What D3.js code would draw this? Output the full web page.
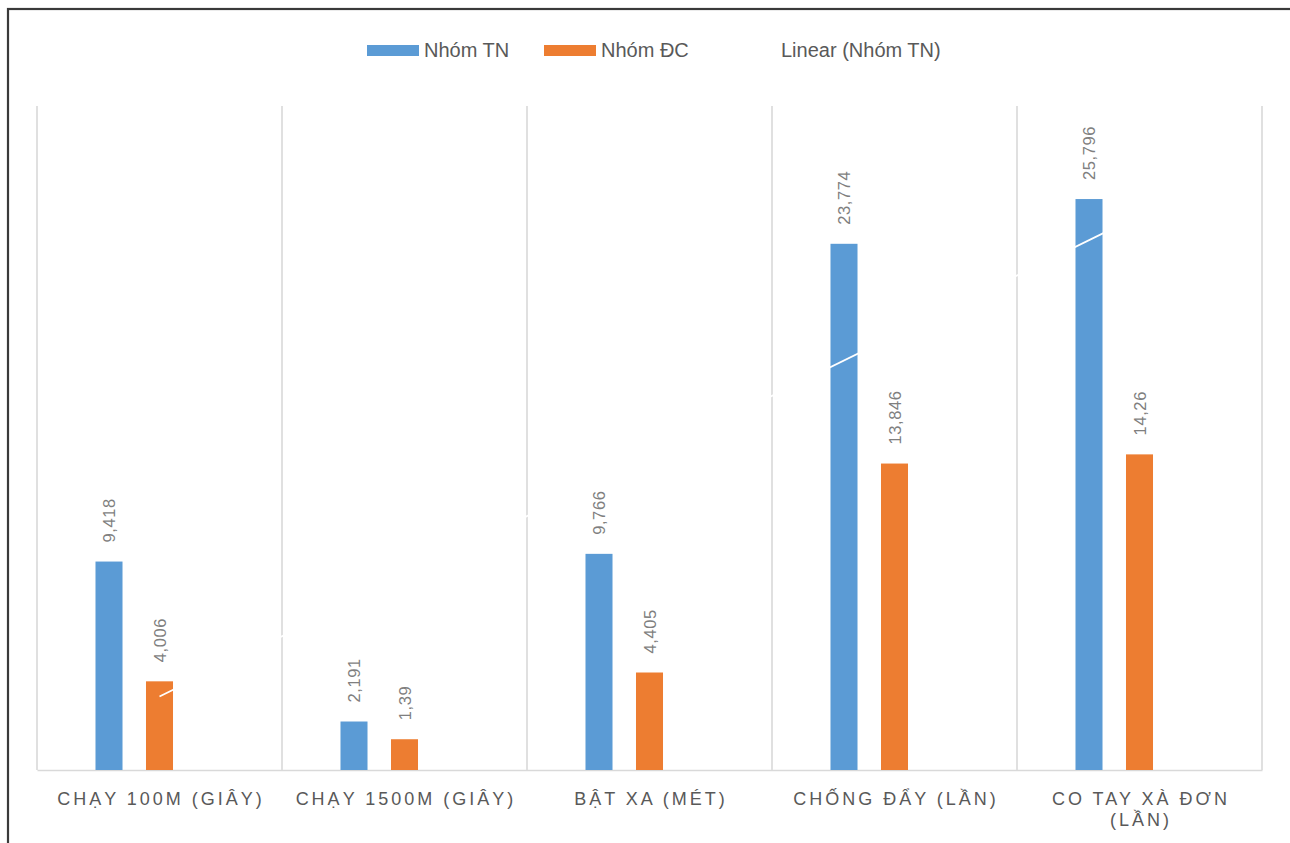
<!DOCTYPE html>
<html>
<head>
<meta charset="utf-8">
<script src="https://cdn.jsdelivr.net/npm/d3@7"></script>
<style>
  html, body { margin: 0; padding: 0; background: #fff; }
  svg { display: block; }
</style>
</head>
<body>
<svg id="chart" width="1290" height="843"></svg>
<script>
// ---- data ----
const categories = [
  ["CHẠY 100M (GIÂY)"],
  ["CHẠY 1500M (GIÂY)"],
  ["BẬT XA (MÉT)"],
  ["CHỐNG ĐẨY (LẦN)"],
  ["CO TAY XÀ ĐƠN", "(LẦN)"]
];
const seriesNames = ["Nhóm TN", "Nhóm ĐC"];
const valuesTN = [9.418, 2.191, 9.766, 23.774, 25.796];
const valuesDC = [4.006, 1.39, 4.405, 13.846, 14.26];
const labelsTN = ["9,418", "2,191", "9,766", "23,774", "25,796"];
const labelsDC = ["4,006", "1,39", "4,405", "13,846", "14,26"];
const trendName = "Linear (Nhóm TN)";
const yDomain = [0, 30];

// ---- layout ----
const svg = d3.select("#chart");
const plot = { left: 37, right: 1262, top: 106, bottom: 770 };
const colors = { "Nhóm TN": "#5b9bd5", "Nhóm ĐC": "#ed7d31" };
const textGray = "#595959";
const gridGray = "#d9d9d9";

// frame
svg.append("rect")
  .attr("x", 8).attr("y", 9).attr("width", 1400).attr("height", 1000)
  .attr("fill", "none").attr("stroke", "#3a3a3a").attr("stroke-width", 2.2);

const catKeys = categories.map((c, i) => i);
const x0 = d3.scaleBand().domain(catKeys).range([plot.left, plot.right]).padding(0);
const slotKeys = ["Nhóm TN", "Nhóm ĐC", "_trend"];
const half = 75.75;
const x1 = d3.scaleBand().domain(slotKeys).range([-half, half])
  .paddingInner(0.465).paddingOuter(0.2325);
const y = d3.scaleLinear().domain(yDomain).range([plot.bottom, plot.top]);

// vertical gridlines at category boundaries
const bounds = catKeys.map(k => x0(k)).concat([plot.right]);
svg.append("g").selectAll("line").data(bounds).join("line")
  .attr("x1", d => d).attr("x2", d => d)
  .attr("y1", plot.top).attr("y2", plot.bottom)
  .attr("stroke", gridGray).attr("stroke-width", 1.6);

// bottom axis
const xAxis = d3.axisBottom(x0).tickSize(0).tickFormat(() => "");
const axisG = svg.append("g").attr("transform", `translate(0,${plot.bottom})`).call(xAxis);
axisG.select(".domain").attr("stroke", gridGray).attr("stroke-width", 1.6);

// axis labels
const lab = svg.append("g");
categories.forEach((lines, i) => {
  const cx = x0(i) + x0.bandwidth() / 2;
  const t = lab.append("text")
    .attr("x", cx).attr("y", 805)
    .attr("text-anchor", "middle")
    .attr("font-family", "Liberation Sans, Arial, sans-serif")
    .attr("font-size", 18).attr("letter-spacing", "3px")
    .attr("fill", textGray);
  lines.forEach((ln, j) => {
    t.append("tspan").attr("x", cx + 1.5).attr("dy", j === 0 ? 0 : 21).text(ln);
  });
});

// bars
const rows = categories.map((c, i) => ({ i, vals: [
  { s: "Nhóm TN", v: valuesTN[i], l: labelsTN[i] },
  { s: "Nhóm ĐC", v: valuesDC[i], l: labelsDC[i] }
]}));
const barG = svg.append("g");
const groups = barG.selectAll("g").data(rows).join("g")
  .attr("transform", d => `translate(${x0(d.i) + x0.bandwidth() / 2},0)`);
groups.selectAll("rect").data(d => d.vals).join("rect")
  .attr("x", d => x1(d.s)).attr("width", x1.bandwidth())
  .attr("y", d => y(d.v)).attr("height", d => y(0) - y(d.v))
  .attr("fill", d => colors[d.s]);

// trendline (linear regression of Nhóm TN), drawn white like the original
const xs = valuesTN.map((v, i) => i + 1);
const mx = d3.mean(xs), my = d3.mean(valuesTN);
const slope = d3.sum(xs.map((xv, i) => (xv - mx) * (valuesTN[i] - my))) /
              d3.sum(xs.map(xv => (xv - mx) ** 2));
const icpt = my - slope * mx;
const xc = d3.scaleLinear().domain([1, categories.length])
  .range([x0(0) + x0.bandwidth() / 2, x0(categories.length - 1) + x0.bandwidth() / 2]);
svg.append("line")
  .attr("x1", xc(1)).attr("y1", y(icpt + slope * 1))
  .attr("x2", xc(categories.length)).attr("y2", y(icpt + slope * categories.length))
  .attr("stroke", "#ffffff").attr("stroke-width", 1.8);

// data labels (rotated)
groups.selectAll("text").data(d => d.vals).join("text")
  .attr("transform", d => `translate(${x1(d.s) + x1.bandwidth() / 2 + 6},${y(d.v) - 19}) rotate(-90)`)
  .attr("text-anchor", "start")
  .attr("font-family", "Liberation Sans, Arial, sans-serif")
  .attr("font-size", 16.5).attr("letter-spacing", "0.6px")
  .attr("fill", "#7f7f7f")
  .text(d => d.l);

// legend
const leg = svg.append("g").attr("font-family", "Liberation Sans, Arial, sans-serif")
  .attr("font-size", 20).attr("fill", textGray);
const legItems = [
  { name: seriesNames[0], x: 367, type: "rect", color: colors["Nhóm TN"] },
  { name: seriesNames[1], x: 544, type: "rect", color: colors["Nhóm ĐC"] },
  { name: trendName, x: 726, type: "line", color: "#ffffff" }
];
legItems.forEach(it => {
  if (it.type === "rect") {
    leg.append("rect").attr("x", it.x).attr("y", 45).attr("width", 52).attr("height", 11)
      .attr("fill", it.color);
  } else {
    leg.append("line").attr("x1", it.x).attr("x2", it.x + 50).attr("y1", 50).attr("y2", 50)
      .attr("stroke", it.color).attr("stroke-width", 2);
  }
  leg.append("text").attr("x", it.x + (it.type === "rect" ? 57 : 55)).attr("y", 57).text(it.name);
});
</script>
</body>
</html>
